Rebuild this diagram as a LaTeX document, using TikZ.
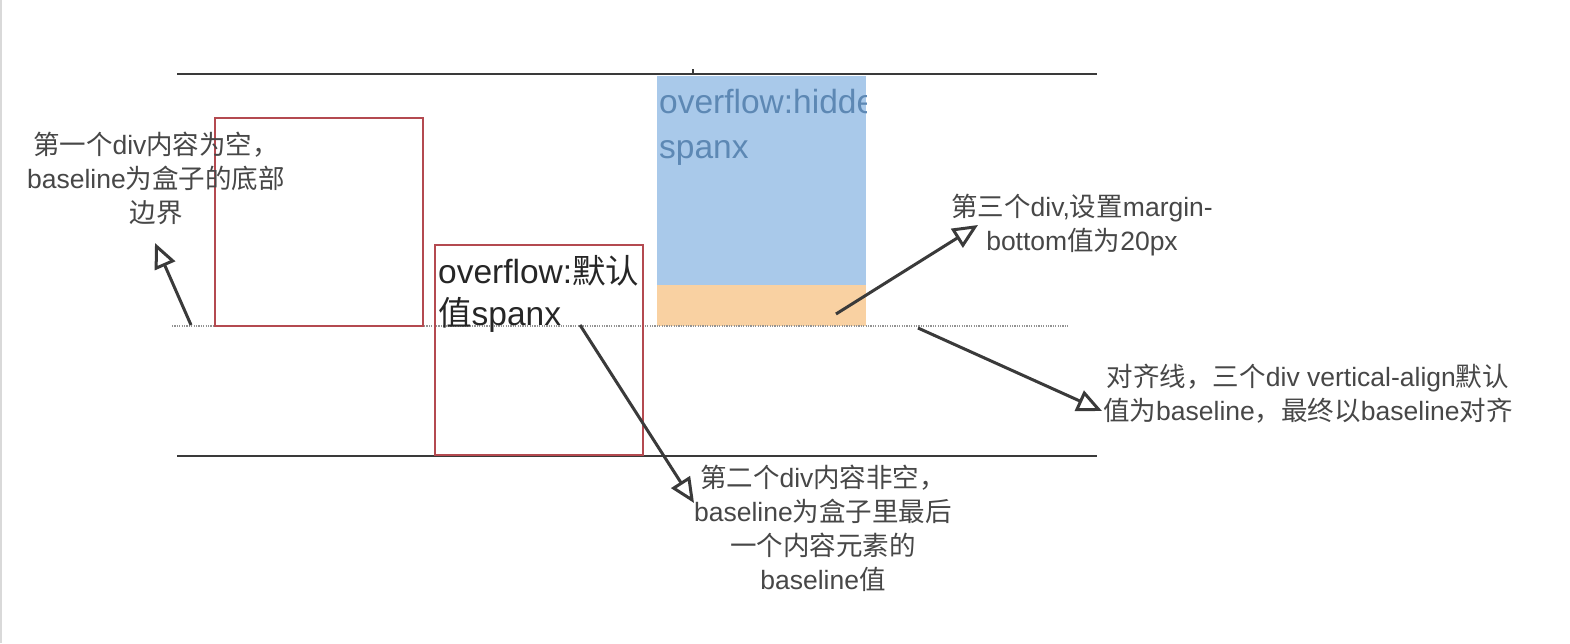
\documentclass[tikz,border=0pt]{standalone}
\usepackage{fontspec}
\setmainfont{Liberation Sans}
\newfontfamily\cjkfont{Noto Sans CJK SC}
\newcommand\zh[1]{{\cjkfont #1}}
\usetikzlibrary{arrows.meta}
\definecolor{boxred}{HTML}{B44A50}
\definecolor{lbl}{HTML}{474747}
\definecolor{rulec}{HTML}{3A3A3A}
\definecolor{orangef}{HTML}{F9D1A2}
\definecolor{bluef}{HTML}{A9C9EA}
\definecolor{bluet}{HTML}{5D88B4}
\tikzset{
  divbox/.style={draw=boxred, line width=1.6pt},
  hrule/.style={draw=rulec, line width=2pt},
  baseln/.style={draw=gray!85, line width=1.6pt, dash pattern=on 1.2pt off 1.2pt},
  callout/.style={draw=rulec, line width=3pt, -{Triangle[open, length=25pt, width=22pt, line width=3pt]}},
  lbltext/.style={text=lbl, align=center, inner sep=0pt, font=\fontsize{26.5}{34}\selectfont},
  boxtext/.style={anchor=base west, inner sep=0pt, font=\fontsize{33.5}{42}\selectfont}
}
\begin{document}
\begin{tikzpicture}[x=1pt, y=-1pt]
\useasboundingbox (0,0) rectangle (1570,643);
\fill[white] (0,0) rectangle (1570,643);
\draw[gray!30, line width=1.5pt] (1,0) -- (1,643);

% third div
\fill[orangef] (657,76) rectangle (866,326);
\fill[bluef] (657,76) rectangle (866,285);
\begin{scope}
  \clip (657,76) rectangle (866,285);
  \node[boxtext, text=bluet] (t3a) at (659,113) {overflow:hidden};
  \node[boxtext, text=bluet] (t3b) at (659,158) {spanx};
\end{scope}

% top and bottom lines
\coordinate (topL) at (177,74);
\coordinate (topR) at (1097,74);
\coordinate (botL) at (177,456);
\coordinate (botR) at (1097,456);
\draw[hrule] (topL) -- (topR);
\draw[hrule] (botL) -- (botR);
\coordinate (tickA) at (693,69);
\coordinate (tickB) at (693,74);
\draw[rulec, line width=1.5pt] (tickA) -- (tickB);

% baseline
\coordinate (baseL) at (172,326);
\coordinate (baseR) at (1068,326);
\draw[baseln] (baseL) -- (baseR);

% first div
\draw[divbox] (215,118) rectangle (423,326);
% second div
\draw[divbox] (435,245) rectangle (643,455);
\node[boxtext, text=black!85] (t2a) at (438,283) {overflow:\zh{默认}};
\node[boxtext, text=black!85] (t2b) at (438,325) {\zh{值}spanx};

% labels
\node[lbltext] (l1) at (156,178) {\zh{第一个}div\zh{内容为空，}\\baseline\zh{为盒子的底部}\\\zh{边界}};
\node[lbltext] (l3) at (1082,225) {\zh{第三个}div,\zh{设置}margin-\\bottom\zh{值为}20px};
\node[lbltext, anchor=west] (l4) at (1103,394) {\zh{对齐线，三个}div vertical-align\zh{默认}\\\zh{值为}baseline\zh{，最终以}baseline\zh{对齐}};
\node[lbltext] (l2) at (823,528) {\zh{第二个}div\zh{内容非空，}\\baseline\zh{为盒子里最后}\\\zh{一个内容元素的}\\baseline\zh{值}};

% callouts
\coordinate (a1s) at (191,325);
\coordinate (a1e) at (155,243);
\coordinate (a2s) at (580,325);
\coordinate (a2e) at (694,503);
\coordinate (a3s) at (836,314);
\coordinate (a3e) at (978,225);
\coordinate (a4s) at (918,328);
\coordinate (a4e) at (1102,411);
\draw[callout] (a1s) -- (a1e);
\draw[callout] (a2s) -- (a2e);
\draw[callout] (a3s) -- (a3e);
\draw[callout] (a4s) -- (a4e);
\end{tikzpicture}
\end{document}
